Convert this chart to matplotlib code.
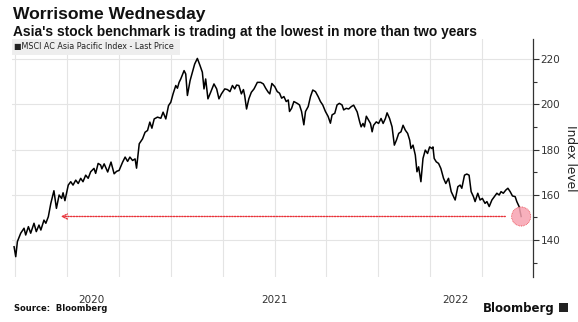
import matplotlib
matplotlib.use("Agg")
import matplotlib.pyplot as plt
import numpy as np
from matplotlib.patches import Rectangle

# MSCI AC Asia Pacific Index, time given as decimal year
t = [2020.245, 2020.253, 2020.261, 2020.277, 2020.293, 2020.301, 2020.314, 2020.325, 2020.341, 2020.352,
     2020.365, 2020.374, 2020.389, 2020.398, 2020.410, 2020.422, 2020.437, 2020.449, 2020.462, 2020.474,
     2020.481, 2020.490, 2020.506, 2020.518, 2020.529, 2020.542, 2020.554, 2020.566, 2020.577, 2020.590,
     2020.602, 2020.614, 2020.630, 2020.638, 2020.650, 2020.662, 2020.668, 2020.679, 2020.696, 2020.712,
     2020.727, 2020.739, 2020.751, 2020.768, 2020.780, 2020.792, 2020.803, 2020.816, 2020.828, 2020.835,
     2020.848, 2020.864, 2020.876, 2020.888, 2020.899, 2020.909, 2020.920, 2020.936, 2020.952, 2020.963,
     2020.976, 2020.989, 2021.000, 2021.011, 2021.024, 2021.032, 2021.040, 2021.048, 2021.064, 2021.072,
     2021.080, 2021.093, 2021.104, 2021.115, 2021.128, 2021.141, 2021.152, 2021.160, 2021.168, 2021.179,
     2021.192, 2021.208, 2021.221, 2021.232, 2021.244, 2021.260, 2021.273, 2021.285, 2021.297, 2021.308,
     2021.317, 2021.328, 2021.340, 2021.350, 2021.356, 2021.365, 2021.376, 2021.388, 2021.401, 2021.417,
     2021.433, 2021.446, 2021.457, 2021.469, 2021.477, 2021.487, 2021.501, 2021.513, 2021.524, 2021.534,
     2021.545, 2021.556, 2021.566, 2021.572, 2021.582, 2021.593, 2021.609, 2021.620, 2021.630, 2021.641,
     2021.649, 2021.662, 2021.673, 2021.684, 2021.697, 2021.710, 2021.721, 2021.732, 2021.745, 2021.758,
     2021.769, 2021.777, 2021.790, 2021.801, 2021.812, 2021.825, 2021.833, 2021.845, 2021.857, 2021.870,
     2021.881, 2021.898, 2021.910, 2021.917, 2021.926, 2021.933, 2021.942, 2021.953, 2021.962, 2021.970,
     2021.977, 2021.990, 2022.001, 2022.013, 2022.023, 2022.034, 2022.042, 2022.054, 2022.066, 2022.077,
     2022.087, 2022.098, 2022.109, 2022.119, 2022.130, 2022.141, 2022.151, 2022.157, 2022.167, 2022.178,
     2022.186, 2022.194, 2022.205, 2022.215, 2022.226, 2022.237, 2022.247, 2022.258, 2022.263, 2022.269,
     2022.279, 2022.290, 2022.301, 2022.314, 2022.325, 2022.338, 2022.351, 2022.362, 2022.370, 2022.383,
     2022.394, 2022.402, 2022.415, 2022.426, 2022.437, 2022.447, 2022.458, 2022.466, 2022.479, 2022.490,
     2022.501, 2022.514, 2022.523, 2022.534, 2022.547, 2022.559, 2022.571, 2022.582, 2022.591, 2022.602,
     2022.614, 2022.624, 2022.635, 2022.646, 2022.659, 2022.667, 2022.678, 2022.688]
price = [137.0, 132.6, 139.3, 143.0, 145.2, 142.2, 145.9, 143.0, 147.4, 143.7,
         146.6, 144.4, 148.8, 147.4, 150.3, 156.2, 161.8, 154.0, 159.9, 158.4,
         160.9, 157.4, 164.3, 165.8, 164.3, 166.5, 165.0, 167.3, 165.8, 168.7,
         167.3, 170.2, 171.7, 169.5, 173.9, 173.2, 171.5, 173.7, 170.1, 174.5,
         169.3, 170.4, 170.8, 174.5, 176.7, 174.8, 176.7, 175.2, 175.9, 171.8,
         182.6, 184.8, 187.7, 188.5, 192.2, 189.5, 193.6, 194.4, 193.9, 196.6,
         193.6, 199.5, 201.0, 204.7, 208.4, 207.2, 209.8, 211.3, 215.0, 213.5,
         204.0, 210.6, 214.3, 217.9, 220.4, 217.2, 214.3, 206.9, 211.3, 202.5,
         205.4, 209.1, 206.9, 202.5, 204.7, 206.9, 206.6, 205.7, 208.4, 206.9,
         208.6, 208.4, 204.7, 206.6, 203.9, 198.0, 202.5, 205.4, 206.9, 209.8,
         209.8, 209.1, 207.2, 205.5, 204.7, 209.3, 207.9, 205.7, 205.0, 202.8,
         203.5, 201.3, 202.0, 196.9, 198.3, 201.3, 200.5, 199.8, 196.9, 191.0,
         196.9, 199.1, 203.5, 206.4, 205.7, 203.5, 201.3, 199.8, 196.9, 194.7,
         191.7, 195.4, 196.1, 199.8, 200.5, 199.8, 197.6, 198.3, 198.0, 199.1,
         199.7, 196.7, 192.3, 190.1, 191.6, 190.1, 194.8, 193.0, 191.6, 187.9,
         190.8, 192.3, 191.6, 193.8, 191.6, 193.8, 196.3, 193.8, 190.1, 182.0,
         184.2, 187.2, 187.9, 190.8, 188.6, 187.2, 184.2, 180.5, 182.0, 177.6,
         170.2, 172.4, 165.8, 176.1, 179.8, 178.3, 181.2, 180.5, 181.2, 176.1,
         174.6, 173.9, 171.7, 167.3, 165.0, 167.3, 161.4, 159.2, 157.7, 163.6,
         164.3, 162.9, 168.7, 169.2, 168.7, 161.4, 159.2, 157.0, 160.7, 157.7,
         158.4, 156.2, 157.0, 154.8, 157.7, 159.2, 160.7, 159.9, 161.4, 160.7,
         162.1, 162.9, 161.4, 159.5, 159.2, 157.0, 154.8, 150.4]

y_ticks = [140, 160, 180, 200, 220]
y_minor = [130, 150, 170, 190, 210]
year_labels = [2020, 2021, 2022]
grid_quarters = np.arange(2020.25, 2022.76, 0.25)
arrow_from = 2022.625
arrow_to = 2020.457

red = "#e8333a"
grid_c = "#e4e4e4"

fig = plt.figure(figsize=(5.78, 3.22), dpi=100)
ax = fig.add_axes([12 / 578, 1 - 277 / 322, 521 / 578, 238 / 322])

xmin, xmax = 2020.235, 2022.745
ax.set_xlim(xmin, xmax)
ax.set_ylim(123.6, 229.0)

# grid
for q in grid_quarters:
    ax.axvline(q, color=grid_c, linewidth=0.8, zorder=0)
for v in y_ticks:
    ax.axhline(v, color=grid_c, linewidth=0.8, zorder=0)

ax.plot(t, price, color="black", linewidth=1.1, zorder=3)

# arrow back to the last comparable level
ax.annotate("", xy=(arrow_to, price[-1]), xytext=(arrow_from, price[-1]),
            arrowprops=dict(arrowstyle="->", color=red, linestyle=(0, (1, 1)),
                            linewidth=1.0, mutation_scale=9), zorder=4)
ax.scatter([t[-1]], [price[-1]], s=190, color="#f7a3b1", edgecolor=red,
           linewidth=0.6, linestyle=(0, (1, 1)), alpha=0.85, zorder=5)

# axes style
for side in ["left", "top", "bottom"]:
    ax.spines[side].set_visible(False)
ax.spines["right"].set_color("#333333")
ax.spines["right"].set_linewidth(0.9)
ax.yaxis.tick_right()
ax.yaxis.set_label_position("right")
ax.set_yticks(y_ticks)
ax.set_yticks(y_minor, minor=True)
ax.tick_params(axis="y", which="major", length=4, width=0.8, colors="#333333",
               labelsize=7.5, pad=1.5)
ax.tick_params(axis="y", which="minor", length=3, width=0.8, colors="#333333")
ax.set_ylabel("Index level", rotation=270, fontsize=8.8, color="#222222", labelpad=12)

# year labels centred in the visible part of each year
centers = [(max(y, xmin) + min(y + 1, xmax)) / 2 for y in year_labels]
ax.set_xticks(centers)
ax.set_xticklabels([str(y) for y in year_labels])
ax.tick_params(axis="x", length=0, labelsize=7.5, colors="#333333", pad=13)

# legend box
ax.add_patch(Rectangle((0, 1 - 16 / 238), 168 / 521, 16 / 238, transform=ax.transAxes,
                       facecolor="#eeeeee", edgecolor="none", zorder=2))
ax.text(2 / 521, 1 - 8 / 238, "\u25a0MSCI AC Asia Pacific Index - Last Price", transform=ax.transAxes,
        fontsize=5.8, color="#222222", va="center", zorder=3)

head = "Liberation Sans"
fig.text(13 / 578, 1 - 19 / 322, "Worrisome Wednesday", fontsize=12.6, fontweight="bold",
         family=head, va="baseline", color="#111111")
fig.text(13 / 578, 1 - 36 / 322, "Asia's stock benchmark is trading at the lowest in more than two years",
         fontsize=9.9, fontweight="bold", family=head, va="baseline", color="#111111")
fig.text(14 / 578, 1 - 311 / 322, "Source:  Bloomberg", fontsize=6.0, fontweight="bold",
         va="baseline", color="#111111")
fig.text(555 / 578, 1 - 312 / 322, "Bloomberg", fontsize=8.5, fontweight="bold",
         va="baseline", ha="right", color="#111111")
fig.patches.append(Rectangle((559 / 578, 1 - 312 / 322), 9 / 578, 9 / 322, transform=fig.transFigure,
                             facecolor="#222222", edgecolor="none"))

fig.savefig("out.png", dpi=100)
